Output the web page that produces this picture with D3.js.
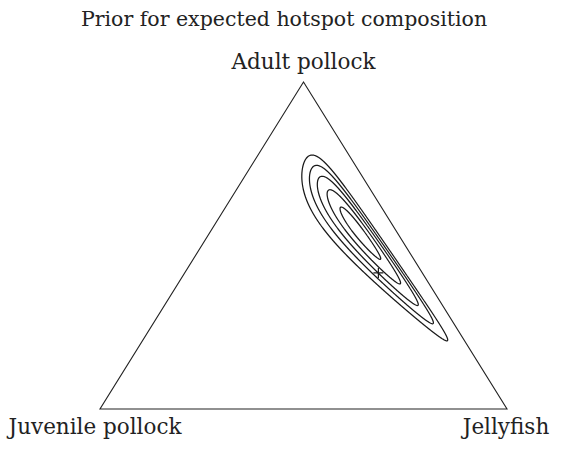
<!DOCTYPE html>
<html><head><meta charset="utf-8">
<script src="https://cdn.jsdelivr.net/npm/d3@7"></script>
<style>
body{margin:0;background:#fff}
text{font-family:"DejaVu Serif",serif;fill:#222}
</style>
</head><body>
<svg id="chart" width="561" height="451"></svg>
<script>
// Ternary plot of a logistic-normal prior on the composition of a hotspot.
const title = "Prior for expected hotspot composition";
const components = ["Adult pollock", "Juvenile pollock", "Jellyfish"];

// Prior on the additive log-ratios log(adult/juvenile), log(jellyfish/juvenile)
const priorMean = [1.479, 1.092];
const priorCholesky = [[0.645, 0.0], [0.429, 0.951]];

// Density levels drawn as contour lines (outermost first)
const contourLevels = [7.75, 9.21, 10.44, 11.54, 12.38];

// Composition marked with a cross: [adult, juvenile, jellyfish]
const markedComposition = [0.416, 0.108, 0.476];

const svg = d3.select("#chart");

// Position scales: adult share runs bottom → apex, the base runs juvenile → jellyfish
const y = d3.scaleLinear().domain([0, 1]).range([409, 82]);
const x = d3.scaleLinear().domain([0, 1]).range([100, 507]);
const px = ([a, j, f]) => [x(f + a / 2), y(a)];
const fromPx = (gx, gy) => { const a = y.invert(gy); const f = x.invert(gx) - a / 2; return [a, 1 - a - f, f]; };

// Triangle frame
svg.append("path")
  .attr("d", d3.line()([px([1, 0, 0]), px([0, 1, 0]), px([0, 0, 1])]) + "Z")
  .attr("fill", "none").attr("stroke", "#222").attr("stroke-width", 1.1);

// Density of the composition on the simplex
const [[l11], [l21, l22]] = priorCholesky;
function density([a, j, f]) {
  if (a <= 0 || j <= 0 || f <= 0) return 0;
  const u = Math.log(a / j) - priorMean[0], v = Math.log(f / j) - priorMean[1];
  const z1 = u / l11, z2 = (v - l21 * z1) / l22;
  return Math.exp(-0.5 * (z1 * z1 + z2 * z2)) / (2 * Math.PI * l11 * l22 * a * j * f);
}

// Evaluate on a fine pixel grid around the mass of the prior
const step = 0.5, gx0 = 250, gy0 = 110, nx = 540, ny = 520;
const gxs = d3.scaleLinear().domain([0, nx]).range([gx0, gx0 + nx * step]);
const gys = d3.scaleLinear().domain([0, ny]).range([gy0, gy0 + ny * step]);
const grid = new Float64Array(nx * ny);
for (let r = 0; r < ny; r++)
  for (let c = 0; c < nx; c++)
    grid[r * nx + c] = density(fromPx(gxs(c + 0.5), gys(r + 0.5)));

const contours = d3.contours().size([nx, ny]).thresholds(contourLevels)(grid);
const toPage = d3.geoTransform({ point(cx, cy) { this.stream.point(gxs(cx), gys(cy)); } });
svg.append("g").selectAll("path").data(contours).join("path")
  .attr("d", d3.geoPath(toPage))
  .attr("fill", "none").attr("stroke", "#1a1a1a").attr("stroke-width", 1.25);

// Cross at the marked composition
const [mx, my] = px(markedComposition);
svg.append("path")
  .attr("d", `M${mx - 5},${my}H${mx + 5}M${mx},${my - 5}V${my + 5}`)
  .attr("stroke", "#1a1a1a").attr("stroke-width", 1.2);

// Title and vertex labels
svg.append("text").attr("x", 284).attr("y", 26).attr("text-anchor", "middle")
  .attr("font-size", 20.5).text(title);
const [pa, pj, pf] = [px([1, 0, 0]), px([0, 1, 0]), px([0, 0, 1])];
svg.append("text").attr("x", pa[0]).attr("y", pa[1] - 13).attr("text-anchor", "middle")
  .attr("font-size", 21.5).text(components[0]);
svg.append("text").attr("x", pj[0] - 5).attr("y", pj[1] + 25).attr("text-anchor", "middle")
  .attr("font-size", 21.5).text(components[1]);
svg.append("text").attr("x", pf[0] - 1).attr("y", pf[1] + 25).attr("text-anchor", "middle")
  .attr("font-size", 21.5).text(components[2]);
</script></body></html>
